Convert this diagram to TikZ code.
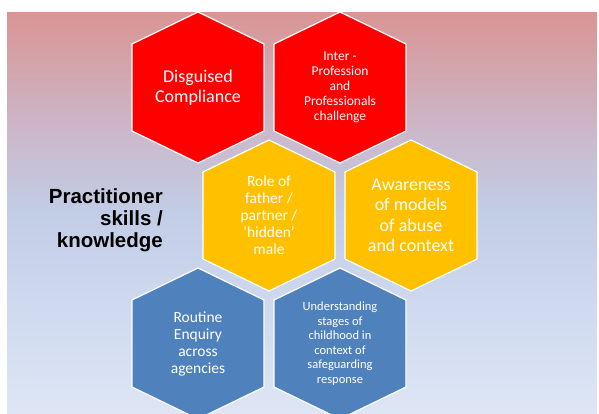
\documentclass[tikz,border=0pt]{standalone}
\usepackage{fontspec}
\setmainfont{Carlito}
\newfontfamily\labelfont{Liberation Sans}
\usetikzlibrary{positioning}

\definecolor{hexred}{RGB}{255,0,0}
\definecolor{hexgold}{RGB}{255,192,0}
\definecolor{hexblue}{RGB}{79,129,189}
\definecolor{bgtop}{RGB}{217,149,148}
\definecolor{bghigh}{RGB}{203,184,202}
\definecolor{bgmid}{RGB}{194,205,230}
\definecolor{bglow}{RGB}{206,217,239}
\definecolor{bgbot}{RGB}{222,230,245}

\pgfdeclareverticalshading{bgshade}{100bp}{color(0bp)=(bgbot); color(25bp)=(bgbot); color(39bp)=(bglow); color(50bp)=(bgmid); color(60bp)=(bghigh); color(75bp)=(bgtop); color(100bp)=(bgtop)}

\begin{document}
\begin{tikzpicture}[x = 1pt, y = -1pt,
		hexcell/.pic = {\path[pic actions] (0, -75.5) -- (66, -43.5) -- (66, 43.5) -- (0, 75.5) -- (-66, 43.5) -- (-66, -43.5) -- cycle;},
		hexline/.style = {draw=white, line width=1.2pt},
		hextext/.style = {text=white, align=center, inner sep=0pt}]
	\useasboundingbox (0, 0) rectangle (599, 413);
	
	% Background
	\shade[shading=bgshade] (7, 12) rectangle (597, 413);
	
	% Red row
	\pic[hexline, fill=hexred] at (198, 87.5) {hexcell};
	\pic[hexline, fill=hexred] at (340, 87.5) {hexcell};
	\node[hextext, font=\fontsize{18}{19.5}\selectfont] (disg) at (198, 87.5) {Disguised\\Compliance};
	\node[hextext, font=\fontsize{13.5}{15}\selectfont] (inter) at (340, 87.5) {Inter -\\Profession\\and\\Professionals\\challenge};
	
	% Gold row
	\pic[hexline, fill=hexgold] at (269, 215.5) {hexcell};
	\pic[hexline, fill=hexgold] at (411, 215.5) {hexcell};
	\node[hextext, font=\fontsize{15.5}{17}\selectfont] (role) at (269, 215.5) {Role of\\father /\\partner /\\'hidden'\\male};
	\node[hextext, font=\fontsize{18}{20.5}\selectfont] (aware) at (411, 215.5) {Awareness\\of models\\of abuse\\and context};
	
	% Blue row
	\pic[hexline, fill=hexblue] at (198, 343.5) {hexcell};
	\pic[hexline, fill=hexblue] at (340, 343.5) {hexcell};
	\node[hextext, font=\fontsize{15.5}{17}\selectfont] (routine) at (198, 343.5) {Routine\\Enquiry\\across\\agencies};
	\node[hextext, font=\fontsize{12.5}{14.5}\selectfont] (under) at (340, 343.5) {Understanding\\stages of\\childhood in\\context of\\safeguarding\\response};
	
	% Side label
	\node[anchor=east, align=right, inner sep=0pt, font=\labelfont\bfseries\fontsize{20.5}{22}\selectfont] (skills) at (163, 220) {Practitioner\\skills /\\knowledge};
\end{tikzpicture}
\end{document}
